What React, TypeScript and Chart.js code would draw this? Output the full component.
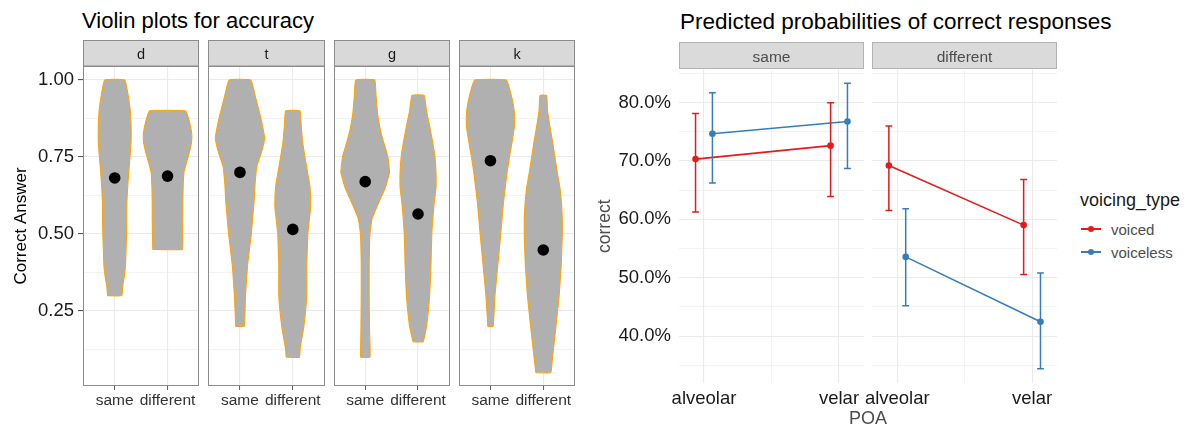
import React, { useEffect, useRef } from "react";
import { Chart, registerables } from "chart.js";

Chart.register(...registerables);

const FONT = '"Liberation Sans", Arial, Helvetica, sans-serif';
Chart.defaults.font.family = FONT;

// ---------------- Left plot: violins ----------------
const phonemes = ["d", "t", "g", "k"];
const conditions = ["same", "different"];
const violinMajorTicks = [0.25, 0.5, 0.75, 1.0];
const violinMinorTicks = [0.125, 0.375, 0.625, 0.875];

// accuracy levels and violin half-widths (in category units)
const dSameLevels = [0.3, 0.33, 0.36, 0.4, 0.45, 0.5, 0.55, 0.6, 0.65, 0.7, 0.75, 0.8, 0.85, 0.9, 0.95, 1.0];
const dSameWidths = [0.135, 0.15, 0.18, 0.205, 0.215, 0.225, 0.23, 0.23, 0.245, 0.265, 0.29, 0.31, 0.31, 0.295, 0.255, 0.19];
const dDiffLevels = [0.45, 0.5, 0.55, 0.6, 0.65, 0.7, 0.73, 0.77, 0.8, 0.83, 0.87, 0.9];
const dDiffWidths = [0.28, 0.285, 0.29, 0.29, 0.295, 0.31, 0.355, 0.42, 0.455, 0.455, 0.405, 0.34];
const tSameLevels = [0.2, 0.3, 0.4, 0.5, 0.56, 0.61, 0.66, 0.72, 0.77, 0.81, 0.84, 0.88, 0.94, 1.0];
const tSameWidths = [0.08, 0.105, 0.145, 0.215, 0.245, 0.27, 0.285, 0.32, 0.415, 0.465, 0.44, 0.39, 0.3, 0.205];
const tDiffLevels = [0.1, 0.13, 0.2, 0.3, 0.4, 0.5, 0.55, 0.59, 0.655, 0.7, 0.75, 0.8, 0.85, 0.9];
const tDiffWidths = [0.125, 0.14, 0.21, 0.265, 0.265, 0.285, 0.315, 0.34, 0.325, 0.28, 0.23, 0.185, 0.16, 0.135];
const gSameLevels = [0.1, 0.2, 0.3, 0.4, 0.5, 0.55, 0.6, 0.65, 0.7, 0.75, 0.8, 0.84, 0.89, 0.95, 1.0];
const gSameWidths = [0.09, 0.08, 0.075, 0.075, 0.09, 0.13, 0.25, 0.38, 0.46, 0.43, 0.345, 0.285, 0.235, 0.205, 0.18];
const gDiffLevels = [0.15, 0.2, 0.3, 0.4, 0.5, 0.55, 0.6, 0.65, 0.7, 0.75, 0.8, 0.85, 0.9, 0.95];
const gDiffWidths = [0.095, 0.16, 0.22, 0.245, 0.26, 0.28, 0.305, 0.34, 0.34, 0.32, 0.275, 0.22, 0.16, 0.115];
const kSameLevels = [0.2, 0.3, 0.4, 0.5, 0.6, 0.65, 0.7, 0.75, 0.8, 0.85, 0.9, 0.95, 1.0];
const kSameWidths = [0.05, 0.085, 0.14, 0.195, 0.245, 0.28, 0.315, 0.36, 0.41, 0.455, 0.45, 0.395, 0.3];
const kDiffLevels = [0.05, 0.1, 0.2, 0.3, 0.4, 0.5, 0.55, 0.6, 0.65, 0.7, 0.75, 0.8, 0.85, 0.9, 0.95];
const kDiffWidths = [0.14, 0.175, 0.24, 0.3, 0.34, 0.36, 0.36, 0.345, 0.315, 0.265, 0.22, 0.175, 0.125, 0.08, 0.063];

const meanSame = [0.682, 0.7, 0.67, 0.738];
const meanDifferent = [0.688, 0.515, 0.565, 0.448];

// ---------------- Right plot: predicted probabilities ----------------
const poaLabels = ["alveolar", "velar"];
const conditionFacets = ["same", "different"];
const voicingTypes = ["voiced", "voiceless"];
const percentMajorTicks = [0.4, 0.5, 0.6, 0.7, 0.8];
const percentMinorTicks = [0.35, 0.45, 0.55, 0.65, 0.75, 0.85];

const voicedSameFit = [0.703, 0.726];
const voicedSameLo = [0.6125, 0.639];
const voicedSameHi = [0.781, 0.7995];
const voicelessSameFit = [0.7465, 0.7675];
const voicelessSameLo = [0.662, 0.687];
const voicelessSameHi = [0.8165, 0.833];
const voicedDiffFit = [0.692, 0.59];
const voicedDiffLo = [0.615, 0.5055];
const voicedDiffHi = [0.7595, 0.668];
const voicelessDiffFit = [0.5356, 0.4245];
const voicelessDiffLo = [0.452, 0.344];
const voicelessDiffHi = [0.618, 0.508];

// ---------------- tables built from the arrays ----------------
const violinTable = [
  [[dSameLevels, dSameWidths], [dDiffLevels, dDiffWidths]],
  [[tSameLevels, tSameWidths], [tDiffLevels, tDiffWidths]],
  [[gSameLevels, gSameWidths], [gDiffLevels, gDiffWidths]],
  [[kSameLevels, kSameWidths], [kDiffLevels, kDiffWidths]],
];
const probTable = [
  { fit: [voicedSameFit, voicelessSameFit], lo: [voicedSameLo, voicelessSameLo], hi: [voicedSameHi, voicelessSameHi] },
  { fit: [voicedDiffFit, voicelessDiffFit], lo: [voicedDiffLo, voicelessDiffLo], hi: [voicedDiffHi, voicelessDiffHi] },
];

// ---------------- styles / layout ----------------
const RED = "#E41A1C";
const BLUE = "#377EB8";
const seriesColors = [RED, BLUE];
const DODGE = 0.0625;
const GRID = "#ebebeb";

const isOn = (v: number, list: number[]) => list.some((t) => Math.abs(t - v) < 1e-9);

function violinPoints(center: number, levels: number[], widths: number[]) {
  const left = levels.map((y, i) => ({ x: center - widths[i], y }));
  const right = levels.map((y, i) => ({ x: center + widths[i], y })).reverse();
  return [...left, ...right, left[0]];
}

type Box = {
  canvasLeft: number;
  canvasTop: number;
  canvasW: number;
  canvasH: number;
  padding: { left: number; right: number; top: number; bottom: number };
  yWidth: number;
  xHeight: number;
  stripTop: number;
  stripBottom: number;
};

function makeBox(pl: number, pr: number, pt: number, pb: number, st: number, sb: number, yWidth: number, margin = 14): Box {
  const canvasLeft = yWidth > 0 ? Math.round(pl - yWidth) : Math.floor(pl - margin);
  const canvasRight = Math.ceil(pr + margin);
  const canvasTop = Math.floor(st);
  return {
    canvasLeft,
    canvasTop,
    canvasW: canvasRight - canvasLeft,
    canvasH: 425 - canvasTop,
    padding: { left: yWidth > 0 ? pl - yWidth - canvasLeft : pl - canvasLeft, right: canvasRight - pr, top: pt - canvasTop, bottom: 0 },
    yWidth,
    xHeight: 425 - pb,
    stripTop: st - canvasTop,
    stripBottom: sb - canvasTop,
  };
}

const decorPlugin = {
  id: "panelDecor",
  afterDraw(chart: any, _args: any, o: any) {
    const { ctx, chartArea: a } = chart;
    const L = Math.round(a.left);
    const R = Math.round(a.right);
    ctx.save();
    ctx.lineWidth = 1;
    if (o.border) {
      ctx.strokeStyle = o.border;
      ctx.strokeRect(L + 0.5, Math.round(a.top) + 0.5, R - L - 1, Math.round(a.bottom) - Math.round(a.top) - 1);
    }
    ctx.fillStyle = o.stripFill;
    ctx.fillRect(L, o.stripTop, R - L, o.stripBottom - o.stripTop);
    ctx.strokeStyle = o.stripStroke;
    ctx.strokeRect(L + 0.5, o.stripTop, R - L - 1, o.stripBottom - o.stripTop);
    ctx.fillStyle = o.textColor;
    ctx.font = o.font;
    ctx.textAlign = "center";
    ctx.textBaseline = "alphabetic";
    ctx.fillText(o.text, (L + R) / 2, o.stripBottom - o.baselineUp);
    ctx.restore();
  },
};

const errorBarPlugin = {
  id: "errorBars",
  afterDatasetsDraw(chart: any, _args: any, o: any) {
    const { ctx } = chart;
    const xs = chart.scales.x;
    const ys = chart.scales.y;
    chart.data.datasets.forEach((ds: any) => {
      if (!ds.errLo) return;
      ds.data.forEach((pt: any, j: number) => {
        const px = xs.getPixelForValue(pt.x);
        const half = Math.abs(xs.getPixelForValue(pt.x + o.cap) - px);
        const y0 = ys.getPixelForValue(ds.errLo[j]);
        const y1 = ys.getPixelForValue(ds.errHi[j]);
        ctx.save();
        ctx.strokeStyle = ds.borderColor;
        ctx.lineWidth = o.lineWidth;
        ctx.beginPath();
        ctx.moveTo(px, y0);
        ctx.lineTo(px, y1);
        ctx.moveTo(px - half, y0);
        ctx.lineTo(px + half, y0);
        ctx.moveTo(px - half, y1);
        ctx.lineTo(px + half, y1);
        ctx.stroke();
        ctx.restore();
      });
    });
  },
};

function violinConfig(fi: number, box: Box) {
  const showY = box.yWidth > 0;
  const violins = violinTable[fi].map(([lv, wd], ci) => ({
    type: "scatter",
    order: 2,
    data: violinPoints(ci + 1, lv as number[], wd as number[]),
    showLine: true,
    fill: "shape",
    backgroundColor: "#b0b0b0",
    borderColor: "#FFA500",
    borderWidth: 1.1,
    pointRadius: 0,
    pointHoverRadius: 0,
    tension: 0.1,
  }));
  const means = {
    type: "scatter",
    order: 0,
    data: [
      { x: 1, y: meanSame[fi] },
      { x: 2, y: meanDifferent[fi] },
    ],
    pointRadius: 5.8,
    pointHoverRadius: 5.8,
    backgroundColor: "#000",
    borderColor: "#000",
    borderWidth: 0,
  };
  return {
    type: "scatter",
    data: { datasets: [means, ...violins] },
    plugins: [decorPlugin],
    options: {
      animation: false,
      responsive: false,
      devicePixelRatio: 1,
      events: [],
      layout: { padding: box.padding },
      plugins: {
        legend: { display: false },
        tooltip: { enabled: false },
        panelDecor: {
          border: "#8c8c8c",
          stripFill: "#d9d9d9",
          stripStroke: "#8c8c8c",
          stripTop: box.stripTop,
          stripBottom: box.stripBottom,
          text: phonemes[fi],
          textColor: "#1a1a1a",
          font: `14.5px ${FONT}`,
          baselineUp: 7,
        },
      },
      scales: {
        x: {
          type: "linear",
          min: 0.4,
          max: 2.6,
          bounds: "data",
          afterBuildTicks: (s: any) => {
            s.ticks = [1, 2].map((v) => ({ value: v }));
          },
          afterFit: (s: any) => {
            s.height = box.xHeight;
          },
          ticks: {
            callback: (v: any) => conditions[Math.round(v) - 1],
            font: { size: 15.5, family: FONT },
            color: "#333333",
            padding: 1,
            maxRotation: 0,
            minRotation: 0,
            autoSkip: false,
          },
          grid: { color: GRID, lineWidth: 1.1, drawTicks: true, tickLength: 4, tickColor: "#555555", tickWidth: 1 },
          border: { display: false },
        },
        y: {
          type: "linear",
          min: 0.0065,
          max: 1.0455,
          bounds: "data",
          afterBuildTicks: (s: any) => {
            s.ticks = [...violinMinorTicks, ...violinMajorTicks].sort((a, b) => a - b).map((v) => ({ value: v }));
          },
          afterFit: (s: any) => {
            s.width = box.yWidth;
          },
          ticks: {
            display: showY,
            callback: (v: any) => (isOn(v, violinMajorTicks) ? Number(v).toFixed(2) : ""),
            font: { size: 18.5, family: FONT },
            color: "#1a1a1a",
            padding: 4,
            autoSkip: false,
          },
          grid: {
            color: GRID,
            lineWidth: (c: any) => (isOn(c.tick?.value, violinMajorTicks) ? 1.1 : 0.6),
            drawTicks: showY,
            tickLength: 5,
            tickColor: (c: any) => (isOn(c.tick?.value, violinMajorTicks) ? "#555555" : "rgba(0,0,0,0)"),
          },
          border: { display: false },
          title: {
            display: showY,
            text: "Correct Answer",
            color: "#000",
            font: { size: 17, family: FONT },
            padding: { top: 11, bottom: 0 },
          },
        },
      },
    },
  };
}

function probConfig(fi: number, box: Box) {
  const showY = box.yWidth > 0;
  const t = probTable[fi];
  const datasets = voicingTypes.map((name, si) => ({
    type: "scatter",
    label: name,
    data: t.fit[si].map((y, k) => ({ x: k + 1 + (si === 0 ? -DODGE : DODGE), y })),
    errLo: t.lo[si],
    errHi: t.hi[si],
    showLine: true,
    borderColor: seriesColors[si],
    backgroundColor: seriesColors[si],
    borderWidth: 1.6,
    pointRadius: 3.3,
    pointHoverRadius: 3.3,
    pointBorderWidth: 0,
  }));
  return {
    type: "scatter",
    data: { datasets },
    plugins: [decorPlugin, errorBarPlugin],
    options: {
      animation: false,
      responsive: false,
      devicePixelRatio: 1,
      events: [],
      layout: { padding: box.padding },
      plugins: {
        legend: { display: false },
        tooltip: { enabled: false },
        errorBars: { cap: 0.025, lineWidth: 1.5 },
        panelDecor: {
          border: null,
          stripFill: "#dadada",
          stripStroke: "#b3b3b3",
          stripTop: box.stripTop,
          stripBottom: box.stripBottom,
          text: conditionFacets[fi],
          textColor: "#4d4d4d",
          font: `15.5px ${FONT}`,
          baselineUp: 7,
        },
      },
      scales: {
        x: {
          type: "linear",
          min: 0.815,
          max: 2.185,
          bounds: "data",
          afterBuildTicks: (s: any) => {
            s.ticks = [1, 1.5, 2].map((v) => ({ value: v }));
          },
          afterFit: (s: any) => {
            s.height = box.xHeight;
          },
          ticks: {
            callback: (v: any) => (isOn(v, [1, 2]) ? poaLabels[Math.round(v) - 1] : ""),
            font: { size: 18.5, family: FONT },
            color: "#1a1a1a",
            padding: 5,
            maxRotation: 0,
            minRotation: 0,
            autoSkip: false,
          },
          grid: {
            color: GRID,
            lineWidth: (c: any) => (isOn(c.tick?.value, [1, 2]) ? 1.1 : 0.6),
            drawTicks: false,
          },
          border: { display: false },
        },
        y: {
          type: "linear",
          min: 0.3197,
          max: 0.8564,
          bounds: "data",
          afterBuildTicks: (s: any) => {
            s.ticks = [...percentMinorTicks, ...percentMajorTicks].sort((a, b) => a - b).map((v) => ({ value: v }));
          },
          afterFit: (s: any) => {
            s.width = box.yWidth;
          },
          ticks: {
            display: showY,
            callback: (v: any) => (isOn(v, percentMajorTicks) ? (Number(v) * 100).toFixed(1) + "%" : ""),
            font: { size: 18.5, family: FONT },
            color: "#1a1a1a",
            padding: 8,
            autoSkip: false,
          },
          grid: {
            color: GRID,
            lineWidth: (c: any) => (isOn(c.tick?.value, percentMajorTicks) ? 1.1 : 0.6),
            drawTicks: false,
          },
          border: { display: false },
          title: {
            display: showY,
            text: "correct",
            color: "#4d4d4d",
            font: { size: 17.5, family: FONT },
            padding: { top: 9.5, bottom: 0 },
          },
        },
      },
    },
  };
}

function ChartCanvas({ box, make }: { box: Box; make: () => any }) {
  const ref = useRef<HTMLCanvasElement>(null);
  useEffect(() => {
    const chart = new Chart(ref.current as HTMLCanvasElement, make());
    return () => chart.destroy();
  }, []);
  return (
    <canvas
      ref={ref}
      width={box.canvasW}
      height={box.canvasH}
      style={{ position: "absolute", left: box.canvasLeft, top: box.canvasTop, width: box.canvasW, height: box.canvasH }}
    />
  );
}

function Label({ x, baseline, size, color, text, center = false }: any) {
  return (
    <div
      style={{
        position: "absolute",
        left: x,
        top: baseline - size * 0.8465,
        fontSize: size,
        lineHeight: `${size}px`,
        fontFamily: FONT,
        color,
        whiteSpace: "nowrap",
        transform: center ? "translateX(-50%)" : undefined,
      }}
    >
      {text}
    </div>
  );
}

const LEFT_PANEL_LEFTS = [83, 208.25, 333.5, 458.75];
const LEFT_PANEL_W = 116.25;
const RIGHT_PANEL_LEFTS = [679, 872];
const RIGHT_PANEL_W = 185;

export default function App() {
  useEffect(() => {
    document.body.style.margin = "0";
  }, []);

  const leftBoxes = LEFT_PANEL_LEFTS.map((pl, i) =>
    makeBox(pl, pl + LEFT_PANEL_W, 66, 386, 40.5, 66, i === 0 ? 83 : 0)
  );
  const rightBoxes = RIGHT_PANEL_LEFTS.map((pl, i) =>
    makeBox(pl, pl + RIGHT_PANEL_W, 69.5, 383, 42.5, 68.5, i === 0 ? 94 : 0)
  );

  return (
    <div style={{ position: "relative", width: 1190, height: 425, overflow: "hidden", background: "#fff" }}>
      <Label x={82} baseline={28.5} size={22} color="#000" text="Violin plots for accuracy" />
      <Label x={680} baseline={30.5} size={22.5} color="#000" text="Predicted probabilities of correct responses" />
      {leftBoxes.map((b, i) => (
        <ChartCanvas key={"v" + i} box={b} make={() => violinConfig(i, b)} />
      ))}
      {rightBoxes.map((b, i) => (
        <ChartCanvas key={"p" + i} box={b} make={() => probConfig(i, b)} />
      ))}
      <Label x={868} baseline={424} size={18} color="#4d4d4d" text="POA" center />
      <Label x={1080} baseline={206} size={18} color="#1a1a1a" text="voicing_type" />
      {voicingTypes.map((name, i) => (
        <React.Fragment key={name}>
          <div
            style={{
              position: "absolute",
              left: 1081,
              top: 228.2 + i * 23,
              width: 20,
              height: 1.6,
              background: seriesColors[i],
            }}
          />
          <div
            style={{
              position: "absolute",
              left: 1091 - 3.3,
              top: 229 - 3.3 + i * 23,
              width: 6.6,
              height: 6.6,
              borderRadius: "50%",
              background: seriesColors[i],
            }}
          />
          <Label x={1111} baseline={234.5 + i * 23} size={15} color="#4d4d4d" text={name} />
        </React.Fragment>
      ))}
    </div>
  );
}
